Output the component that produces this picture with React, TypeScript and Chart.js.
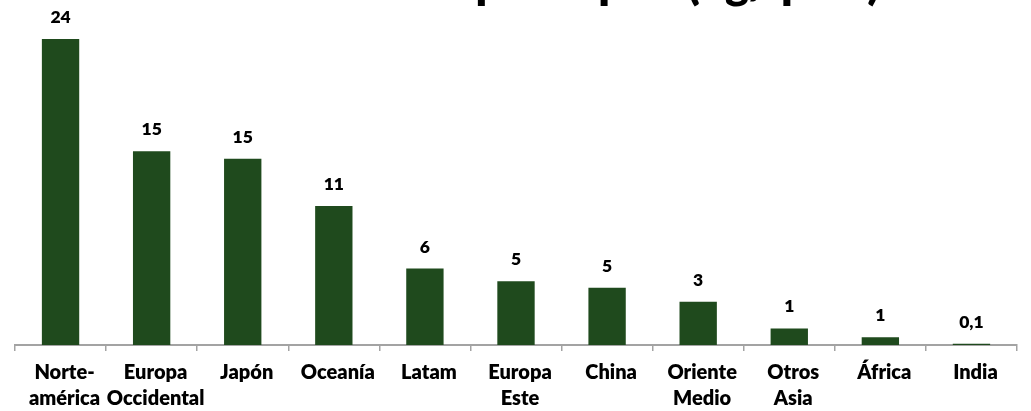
import React, { useEffect, useRef } from "react";
import { Chart, registerables } from "chart.js";

Chart.register(...registerables);

const CATEGORIES: (string | string[])[] = [
  ["Norte-", "américa"],
  ["Europa", "Occidental"],
  "Japón",
  "Oceanía",
  "Latam",
  ["Europa", "Este"],
  "China",
  ["Oriente", "Medio"],
  ["Otros", "Asia"],
  "África",
  "India",
];
const VALUES = [24.0, 15.2, 14.6, 10.9, 6.0, 5.0, 4.5, 3.4, 1.3, 0.6, 0.1];
const VALUE_LABELS = ["24", "15", "15", "11", "6", "5", "5", "3", "1", "1", "0,1"];
const TITLE = "Consumo per cápita (kg/ pers)";
const Y_MIN = 0;
const Y_MAX = 24;

const BAR_COLOR = "#1F4A1D";
const AXIS_COLOR = "#A3A3A3";
const FONT = "Lato";

const valueLabelPlugin = {
  id: "valueLabels",
  afterDatasetsDraw(chart: any) {
    const ctx = chart.ctx;
    const meta = chart.getDatasetMeta(0);
    ctx.save();
    ctx.font = `800 17.5px ${FONT}`;
    ctx.fillStyle = "#000";
    ctx.textAlign = "center";
    ctx.textBaseline = "alphabetic";
    meta.data.forEach((bar: any, i: number) => {
      ctx.fillText(VALUE_LABELS[i], bar.x, bar.y - 16);
    });
    ctx.restore();
  },
};

const clippedTitlePlugin = {
  id: "clippedTitle",
  afterDraw(chart: any) {
    const ctx = chart.ctx;
    ctx.save();
    ctx.font = `800 45px ${FONT}`;
    ctx.fillStyle = "#000";
    ctx.textAlign = "right";
    ctx.textBaseline = "alphabetic";
    ctx.fillText(TITLE, 880, -1.5);
    ctx.restore();
  },
};

export default function App() {
  const canvasRef = useRef<HTMLCanvasElement | null>(null);

  useEffect(() => {
    if (!canvasRef.current) return;
    const chart = new Chart(canvasRef.current, {
      type: "bar",
      data: {
        labels: CATEGORIES,
        datasets: [
          {
            data: VALUES,
            backgroundColor: BAR_COLOR,
            borderWidth: 0,
            barPercentage: 0.41,
            categoryPercentage: 1.0,
          },
        ],
      },
      options: {
        responsive: false,
        animation: false,
        layout: { padding: { left: 15, right: 14, top: 39, bottom: 0 } },
        plugins: {
          legend: { display: false },
          tooltip: { enabled: false },
          title: { display: false },
        },
        scales: {
          x: {
            offset: true,
            grid: {
              offset: true,
              drawOnChartArea: false,
              drawTicks: true,
              tickLength: 6,
              color: AXIS_COLOR,
              lineWidth: 1.5,
            },
            border: { display: true, color: AXIS_COLOR, width: 2 },
            ticks: {
              color: "#000",
              font: { family: FONT, weight: "800", size: 20, lineHeight: 1.3 },
              padding: 9,
              labelOffset: 4,
              maxRotation: 0,
              autoSkip: false,
            },
            afterFit(scale: any) {
              scale.height = 66;
            },
          },
          y: {
            display: false,
            min: Y_MIN,
            max: Y_MAX,
          },
        },
      },
      plugins: [valueLabelPlugin, clippedTitlePlugin],
    });
    return () => chart.destroy();
  }, []);

  return (
    <div style={{ position: "absolute", left: 0, top: 0, width: 1031, height: 411 }}>
      <canvas ref={canvasRef} width={1031} height={411} style={{ display: "block" }} />
    </div>
  );
}
